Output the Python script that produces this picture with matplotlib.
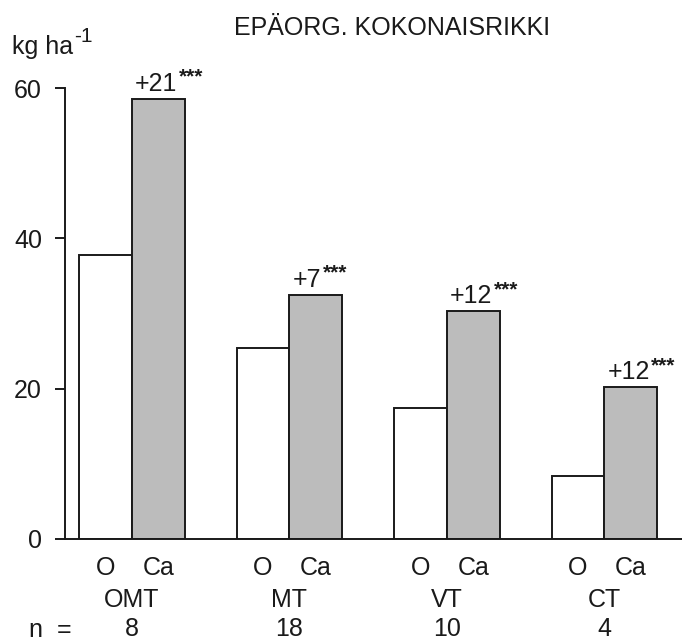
import matplotlib.pyplot as plt
import numpy as np

plt.rcParams['font.family'] = ['Liberation Sans', 'DejaVu Sans']

# Epäorgaaninen kokonaisrikki, kasvupaikkatyypeittäin
sites = ['OMT', 'MT', 'VT', 'CT']
n_obs = [8, 18, 10, 4]
control = [37.8, 25.4, 17.4, 8.4]     # O
limed = [58.6, 32.5, 30.3, 20.2]      # Ca
diff_labels = ['+21', '+7', '+12', '+12']
signif = ['***', '***', '***', '***']

ink = '#1a1a1a'
fs = 18
fig = plt.figure(figsize=(6.82, 6.43), dpi=100)
ax = fig.add_axes([65 / 682, 104 / 643, 617 / 682, 451 / 643])

x = 0.425 + np.arange(len(sites))
w = 0.336
ax.bar(x - w / 2, control, w, color='white', edgecolor=ink, linewidth=1.4)
ax.bar(x + w / 2, limed, w, color='#bcbcbc', edgecolor=ink, linewidth=1.4)

# erotus ja merkitsevyystähdet Ca-pylvään yläpuolelle
for xi, top, d, s in zip(x, limed, diff_labels, signif):
    num = ax.annotate(d, (xi + 0.02, top), xytext=(0, 2),
                      textcoords='offset points', ha='left', va='bottom',
                      fontsize=fs, color=ink)
    ax.annotate(s, xy=(1, 1), xycoords=num, xytext=(1, 3),
                textcoords='offset points', ha='left', va='top',
                fontsize=15, color=ink, fontweight='bold')

ax.set_xlim(0, 617 / 157.5)
ax.set_ylim(0, 60)
ax.set_yticks([0, 20, 40, 60])
ax.tick_params(axis='y', direction='out', length=7.5, width=1.4,
               pad=9, labelsize=fs, colors=ink)
ax.set_xticks([])
for side in ['top', 'right']:
    ax.spines[side].set_visible(False)
for side in ['left', 'bottom']:
    ax.spines[side].set_linewidth(1.4)
    ax.spines[side].set_color(ink)

# Alarivit: käsittely, kasvupaikka ja havaintojen määrä
trans = ax.get_xaxis_transform()
for xi, site, n in zip(x, sites, n_obs):
    ax.text(xi - w / 2, -0.065, 'O', transform=trans, ha='center',
            va='center', fontsize=fs, color=ink)
    ax.text(xi + w / 2, -0.065, 'Ca', transform=trans, ha='center',
            va='center', fontsize=fs, color=ink)
    ax.text(xi, -0.135, site, transform=trans, ha='center',
            va='center', fontsize=fs, color=ink)
    ax.text(xi, -0.2, str(n), transform=trans, ha='center',
            va='center', fontsize=fs, color=ink)
fig.text(50 / 682, 1 - 630 / 643, 'n  =', ha='center', va='center',
         fontsize=fs, color=ink)

# yksikkö: "kg ha" ja yläindeksi -1
unit = fig.text(12 / 682, 1 - 47 / 643, 'kg ha', ha='left', va='center',
                fontsize=fs, color=ink)
ax.annotate('-1', xy=(1, 1), xycoords=unit, xytext=(1, 6),
            textcoords='offset points', ha='left', va='top',
            fontsize=15, color=ink)
fig.text(392 / 682, 1 - 28 / 643, 'EPÄORG. KOKONAISRIKKI', ha='center',
         va='center', fontsize=fs, color=ink)

fig.savefig('out.png', dpi=100)
